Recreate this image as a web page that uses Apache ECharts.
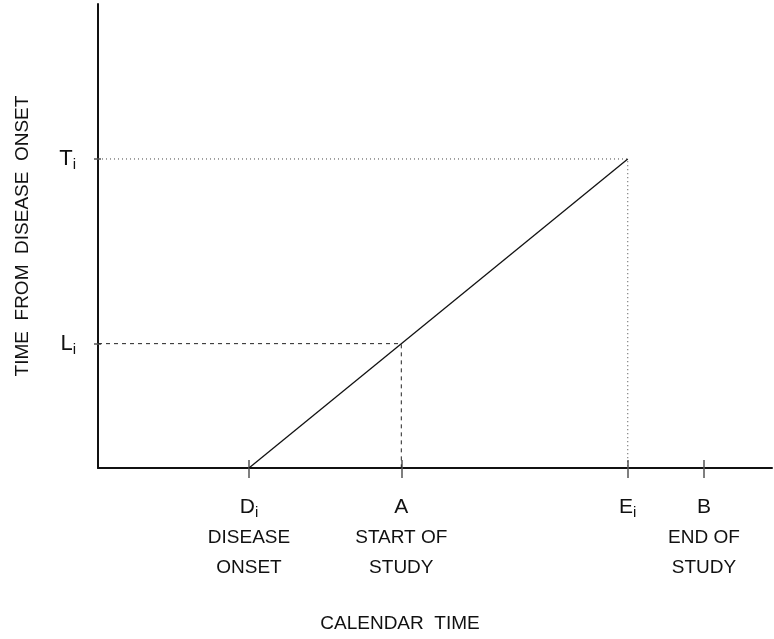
<!DOCTYPE html>
<html>
<head>
<meta charset="utf-8">
<title>Calendar time vs time from disease onset</title>
<script src="https://cdn.jsdelivr.net/npm/echarts@6/dist/echarts.min.js"></script>
<style>
  html, body { margin: 0; padding: 0; background: #fff; }
  #chart { width: 774px; height: 639px; }
</style>
</head>
<body>
<div id="chart"></div>
<script>
// Calendar-time landmarks (x) and their labels
const xTickValues = [22.4, 45.0, 78.6, 89.9];
const xTickMain = ['D', 'A', 'E', 'B'];
const xTickSub = ['i', '', 'i', ''];
const xTickNotes = [['DISEASE', 'ONSET'], ['START OF', 'STUDY'], [], ['END OF', 'STUDY']];

// Time-from-onset landmarks (y) and their labels
const yTickValues = [26.8, 66.6];
const yTickMain = ['L', 'T'];
const yTickSub = ['i', 'i'];

// Subject path: from disease onset to event
const pathX = [22.4, 78.6];
const pathY = [0, 66.6];

// Entry at study start (left truncation time)
const entryX = [0, 45.0, 45.0];
const entryY = [26.8, 26.8, 0];

// Event time
const eventX = [0, 78.6, 78.6];
const eventY = [66.6, 66.6, 0];

const zip = (xs, ys) => xs.map((x, i) => [x, ys[i]]);

const FONT = '"Liberation Sans", Arial, Helvetica, sans-serif';

function xLabel(v) {
  const i = xTickValues.indexOf(v);
  if (i < 0) return '';
  let s = '{m|' + xTickMain[i] + '}';
  if (xTickSub[i]) s += '{s|' + xTickSub[i] + '}';
  xTickNotes[i].forEach(n => { s += '\n{d|' + n + '}'; });
  return s;
}
function yLabel(v) {
  const i = yTickValues.indexOf(v);
  if (i < 0) return '';
  return '{m|' + yTickMain[i] + '}{s|' + yTickSub[i] + '}';
}

const tickStyle = { color: '#555', width: 1.5 };

const chart = echarts.init(document.getElementById('chart'), null, { renderer: 'canvas' });
chart.setOption({
  animation: false,
  backgroundColor: '#fff',
  grid: { left: 98, right: 2, top: 4, bottom: 171, containLabel: false },
  xAxis: [
    {
      type: 'value', min: 0, max: 100, position: 'bottom',
      name: 'CALENDAR  TIME', nameLocation: 'middle', nameGap: 146,
      nameTextStyle: { fontFamily: FONT, fontSize: 19, color: '#111', padding: [0, 70, 0, 0] },
      splitLine: { show: false },
      axisLine: { show: true, lineStyle: { color: '#111', width: 2 } },
      axisTick: { show: true, inside: false, length: 10, customValues: xTickValues, lineStyle: tickStyle },
      axisLabel: {
        show: true, margin: 23, customValues: xTickValues, formatter: xLabel,
        fontFamily: FONT, color: '#111',
        rich: {
          m: { fontFamily: FONT, fontSize: 21, lineHeight: 32, color: '#111' },
          s: { fontFamily: FONT, fontSize: 15, lineHeight: 32, color: '#111', padding: [12, 0, 0, 0] },
          d: { fontFamily: FONT, fontSize: 19, lineHeight: 30, color: '#111' }
        }
      }
    },
    {
      type: 'value', min: 0, max: 100, position: 'bottom',
      splitLine: { show: false },
      axisLine: { show: false },
      axisLabel: { show: false },
      axisTick: { show: true, inside: true, length: 8, customValues: xTickValues, lineStyle: tickStyle }
    }
  ],
  yAxis: [
    {
      type: 'value', min: 0, max: 100, position: 'left',
      name: 'TIME  FROM  DISEASE  ONSET', nameLocation: 'middle', nameGap: 66, nameRotate: 90,
      nameTextStyle: { fontFamily: FONT, fontSize: 19, color: '#111' },
      splitLine: { show: false },
      axisLine: { show: true, lineStyle: { color: '#111', width: 2 } },
      axisTick: { show: true, inside: false, length: 4, customValues: yTickValues, lineStyle: tickStyle },
      axisLabel: {
        show: true, margin: 22, customValues: yTickValues, formatter: yLabel,
        fontFamily: FONT, color: '#111',
        rich: {
          m: { fontFamily: FONT, fontSize: 22, lineHeight: 30, color: '#111' },
          s: { fontFamily: FONT, fontSize: 15, lineHeight: 30, color: '#111', padding: [12, 0, 0, 0] }
        }
      }
    },
    {
      type: 'value', min: 0, max: 100, position: 'left',
      splitLine: { show: false },
      axisLine: { show: false },
      axisLabel: { show: false },
      axisTick: { show: true, inside: true, length: 3, customValues: yTickValues, lineStyle: tickStyle }
    }
  ],
  series: [
    {
      name: 'entry', type: 'line', xAxisIndex: 0, yAxisIndex: 0,
      data: zip(entryX, entryY), symbol: 'none', silent: true,
      lineStyle: { color: '#222', width: 1, type: [4, 4] }
    },
    {
      name: 'event', type: 'line', xAxisIndex: 0, yAxisIndex: 0,
      data: zip(eventX, eventY), symbol: 'none', silent: true,
      lineStyle: { color: '#444', width: 1, type: [1, 3] }
    },
    {
      name: 'path', type: 'line', xAxisIndex: 0, yAxisIndex: 0,
      data: zip(pathX, pathY), symbol: 'none', silent: true,
      lineStyle: { color: '#111', width: 1.3 }
    }
  ]
});
</script>
</body>
</html>
